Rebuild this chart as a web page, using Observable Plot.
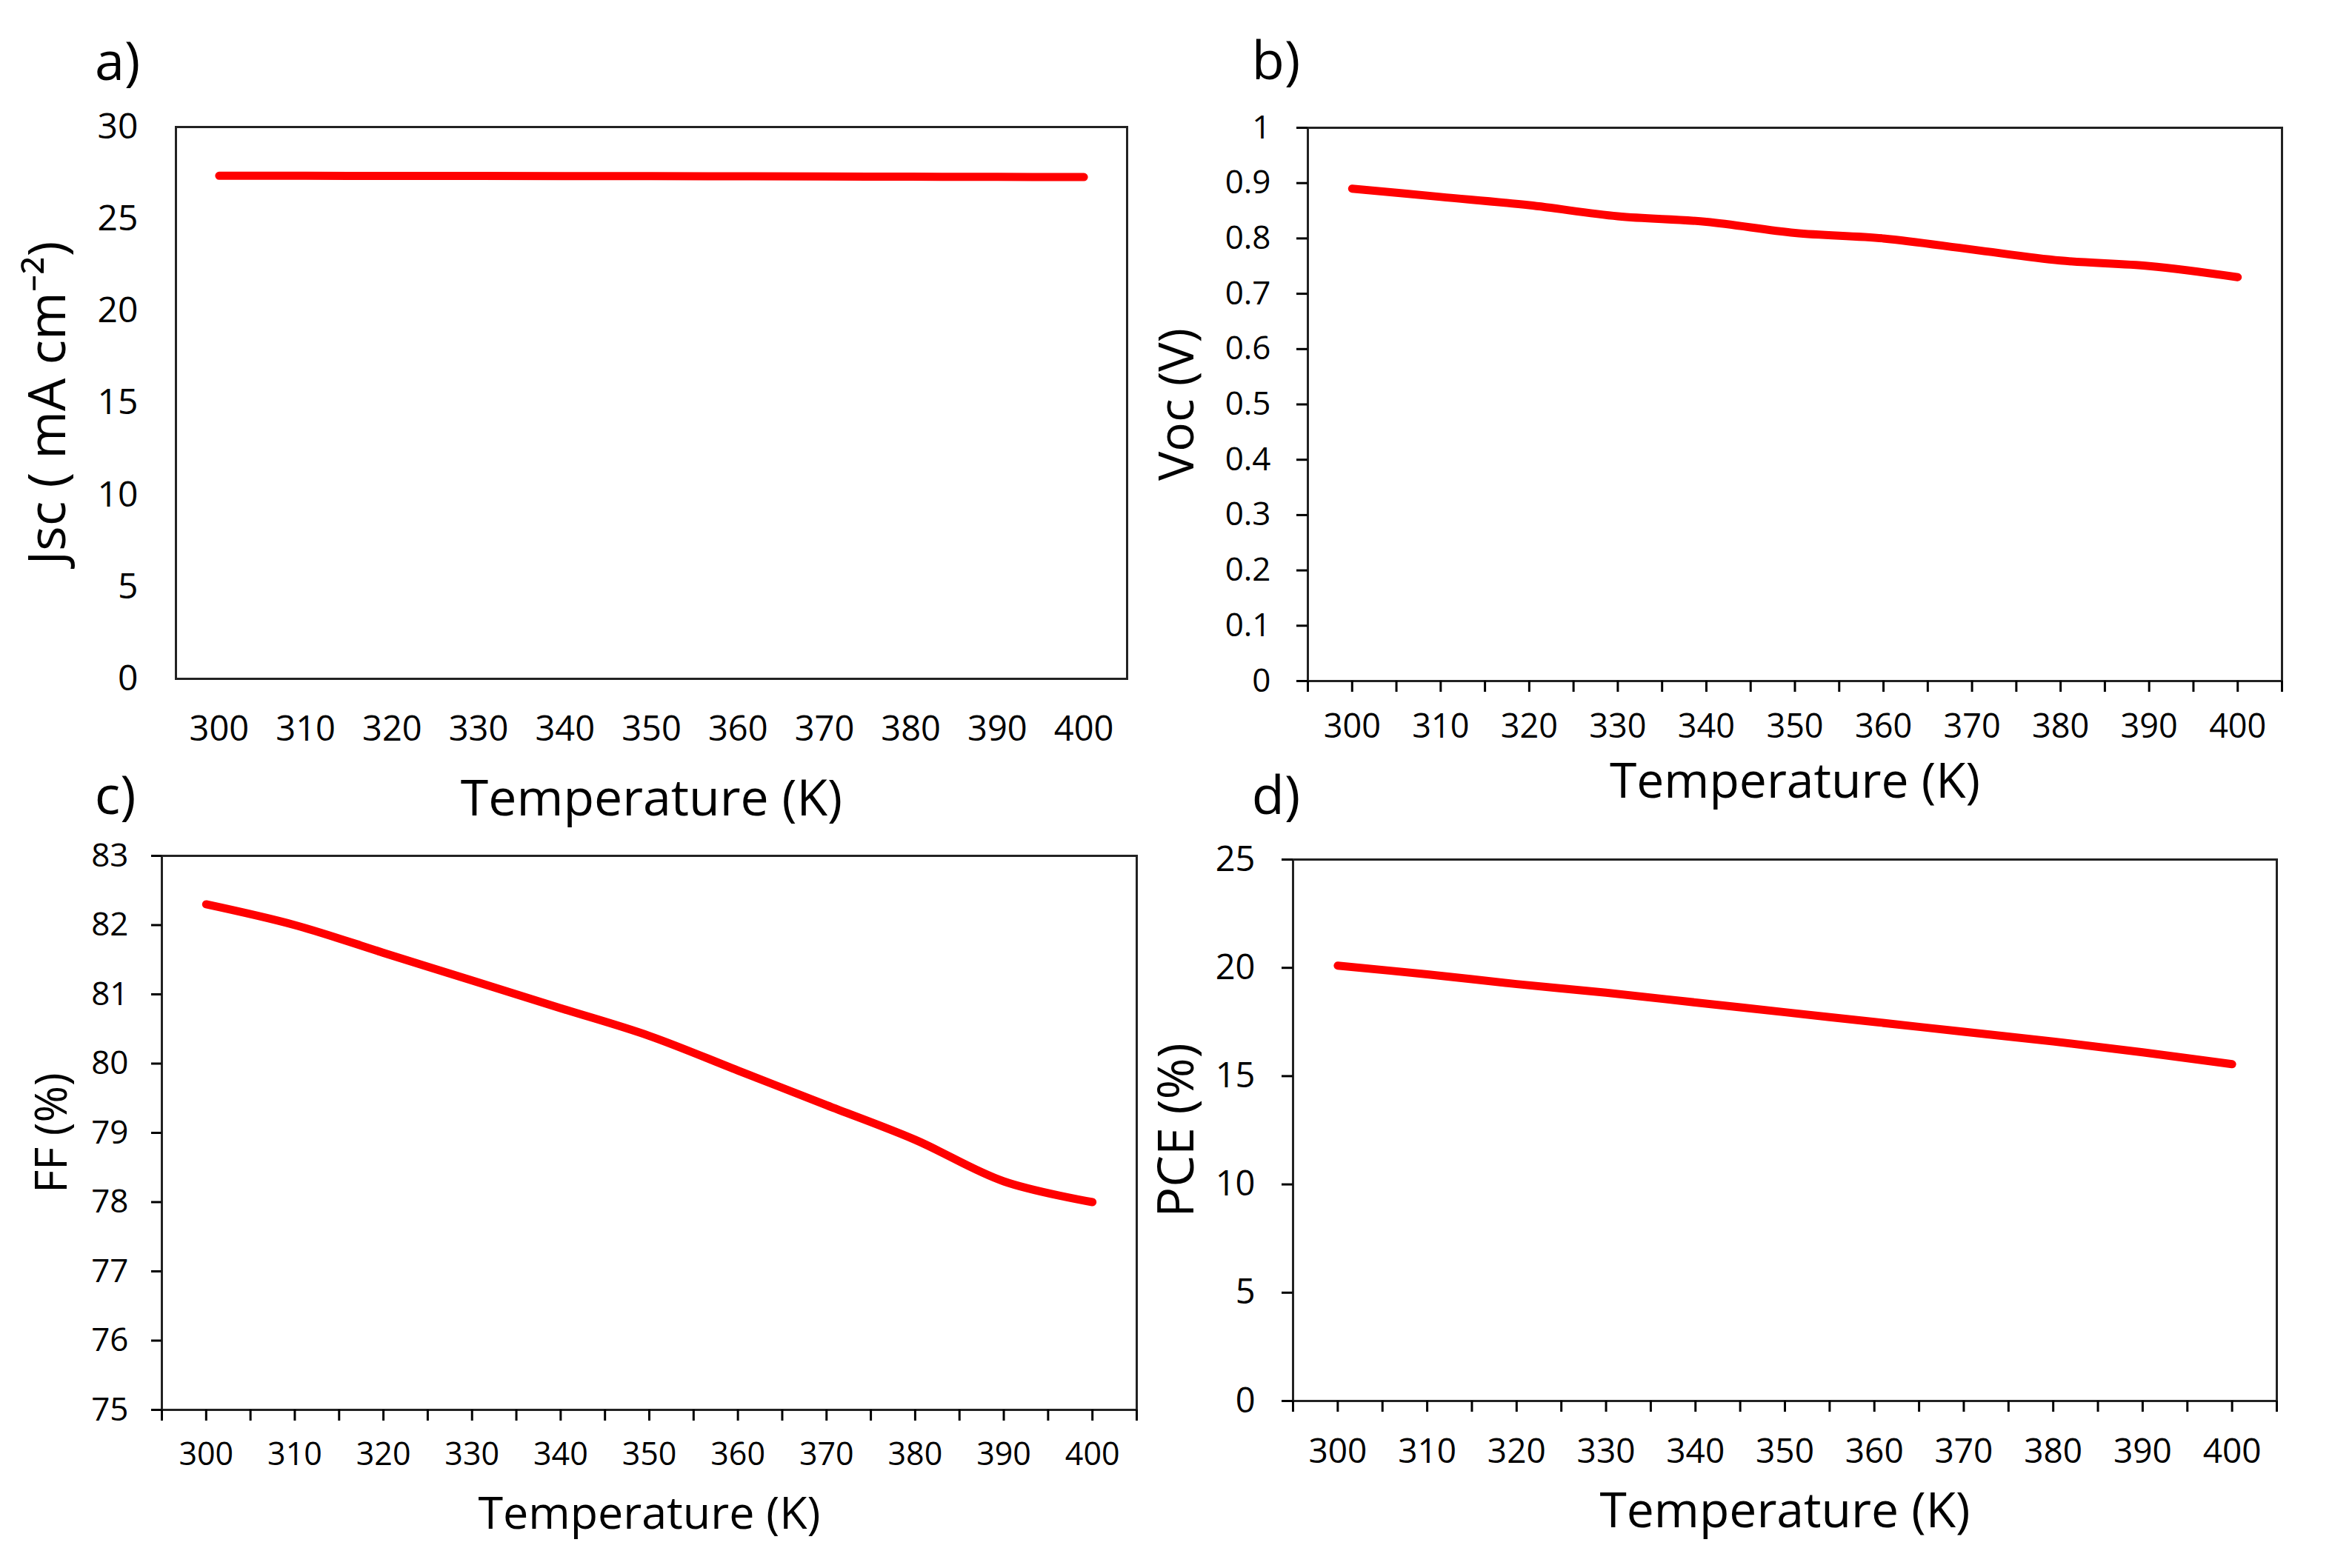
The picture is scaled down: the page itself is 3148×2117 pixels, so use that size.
<!DOCTYPE html>
<html>
<head>
<meta charset="utf-8">
<script src="https://cdn.jsdelivr.net/npm/d3@7"></script>
<script src="https://cdn.jsdelivr.net/npm/@observablehq/plot@0.6"></script>
<style>
  body { margin: 0; background: white; }
  #figure { position: relative; width: 3148px; height: 2117px; background: white; }
  .panel { position: absolute; }
</style>
</head>
<body>
<div id="figure"></div>
<script>
const temperature = [300, 310, 320, 330, 340, 350, 360, 370, 380, 390, 400];
const jsc = [27.35, 27.35, 27.34, 27.34, 27.33, 27.33, 27.32, 27.31, 27.3, 27.29, 27.28];
const voc = [0.89, 0.875, 0.86, 0.84, 0.83, 0.81, 0.8, 0.78, 0.76, 0.75, 0.73];
const ff = [82.3, 82.0, 81.6, 81.2, 80.8, 80.4, 79.9, 79.4, 78.9, 78.3, 78.0];
const pce = [20.1, 19.7, 19.25, 18.85, 18.4, 17.95, 17.5, 17.05, 16.6, 16.1, 15.55];

const xTicks = [295, 300, 305, 310, 315, 320, 325, 330, 335, 340, 345, 350,
  355, 360, 365, 370, 375, 380, 385, 390, 395, 400, 405];
const xLabels = [300, 310, 320, 330, 340, 350, 360, 370, 380, 390, 400];
const jscTicks = [0, 5, 10, 15, 20, 25, 30];
const vocTicks = [0, 0.1, 0.2, 0.3, 0.4, 0.5, 0.6, 0.7, 0.8, 0.9, 1];
const ffTicks = [75, 76, 77, 78, 79, 80, 81, 82, 83];
const pceTicks = [0, 5, 10, 15, 20, 25];

const font = "'Open Sans', 'Noto Sans', sans-serif";

function makePanel(p) {
  const data = temperature.map((t, i) => ({t, v: p.values[i]}));
  const chart = Plot.plot({
    width: p.width,
    height: p.height,
    marginLeft: p.margin[0],
    marginRight: p.margin[1],
    marginTop: p.margin[2],
    marginBottom: p.margin[3],
    style: {fontFamily: font, background: "transparent", overflow: "visible", color: "black"},
    x: {domain: [295, 405]},
    y: {domain: p.domain},
    marks: [
      Plot.frame({stroke: "#222", strokeWidth: 3}),
      Plot.axisY({
        ticks: p.yTicks,
        tickFormat: (d) => `${d}`,
        tickSize: p.yTick[0],
        tickPadding: p.yTick[1],
        fontSize: p.yFont,
        strokeWidth: 3,
        label: null
      }),
      p.minor
        ? Plot.axisX({
            ticks: xTicks,
            tickFormat: (d) => (d % 10 === 0 && d >= 300 && d <= 400 ? `${d}` : ""),
            tickSize: 15,
            tickPadding: p.xPad - 15,
            fontSize: p.xFont,
            strokeWidth: 3,
            label: null
          })
        : Plot.axisX({
            ticks: xLabels,
            tickSize: 0,
            tickPadding: p.xPad,
            fontSize: p.xFont,
            label: null
          }),
      Plot.line(data, {
        x: "t",
        y: "v",
        stroke: "#ff0000",
        strokeWidth: 11,
        curve: "catmull-rom",
        strokeLinecap: "round",
        strokeLinejoin: "round"
      }),
      Plot.text([p.xTitle], {
        frameAnchor: "bottom",
        textAnchor: "middle",
        lineAnchor: "middle",
        dy: p.xTitleDy,
        fontSize: p.xTitleFont,
        fill: "black"
      }),
      Plot.text([p.yTitle], {
        frameAnchor: "left",
        textAnchor: "middle",
        lineAnchor: "middle",
        dx: p.yTitleDx,
        rotate: -90,
        fontSize: p.yTitleFont,
        fill: "black"
      }),
      Plot.text([p.tag], {
        frameAnchor: "top-left",
        textAnchor: "middle",
        lineAnchor: "middle",
        dx: p.tagPos[0],
        dy: p.tagPos[1],
        fontSize: 72,
        fill: "black"
      })
    ]
  });
  chart.classList.add("panel");
  chart.style.left = p.left + "px";
  chart.style.top = p.top + "px";
  document.getElementById("figure").append(chart);
}

makePanel({
  tag: "a)", left: 0, top: 0, width: 1574, height: 1100,
  margin: [237, 53, 171, 184],
  values: jsc, domain: [0, 30], yTicks: jscTicks,
  yTick: [0, 51], yFont: 48, xPad: 50, xFont: 47, minor: false,
  xTitle: "Temperature (K)", xTitleDy: 163, xTitleFont: 68,
  yTitle: "Jsc ( mA cm⁻²)", yTitleDx: -172, yTitleFont: 70,
  tagPos: [-79, -87]
});

makePanel({
  tag: "b)", left: 1574, top: 0, width: 1574, height: 1100,
  margin: [191, 68, 172, 181],
  values: voc, domain: [0, 1], yTicks: vocTicks,
  yTick: [15, 35], yFont: 44, xPad: 45, xFont: 45, minor: true,
  xTitle: "Temperature (K)", xTitleDy: 136, xTitleFont: 66,
  yTitle: "Voc (V)", yTitleDx: -176, yTitleFont: 66,
  tagPos: [-43, -89]
});

makePanel({
  tag: "c)", left: 0, top: 1000, width: 1574, height: 1117,
  margin: [218, 40, 155, 214],
  values: ff, domain: [75, 83], yTicks: ffTicks,
  yTick: [14, 31], yFont: 44, xPad: 44, xFont: 43, minor: true,
  xTitle: "Temperature (K)", xTitleDy: 141, xTitleFont: 61,
  yTitle: "FF (%)", yTitleDx: -148, yTitleFont: 60,
  tagPos: [-63, -80]
});

makePanel({
  tag: "d)", left: 1574, top: 1000, width: 1574, height: 1117,
  margin: [171, 75, 160, 226],
  values: pce, domain: [0, 25], yTicks: pceTicks,
  yTick: [15, 36], yFont: 47, xPad: 51, xFont: 46, minor: true,
  xTitle: "Temperature (K)", xTitleDy: 149, xTitleFont: 66,
  yTitle: "PCE (%)", yTitleDx: -156, yTitleFont: 68,
  tagPos: [-23, -85]
});
</script>
</body>
</html>
